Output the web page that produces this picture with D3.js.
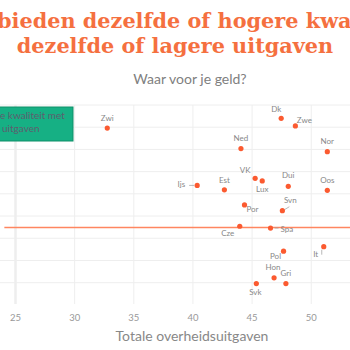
<!DOCTYPE html>
<html lang="nl">
  <head>
    <meta charset="utf-8">
    <title>Waar voor je geld?</title>
    <script src="https://d3js.org/d3.v7.min.js"></script>
    <style>
      body { margin: 0; background: #fff; overflow: hidden; }
      text { font-family: Lato, "Open Sans", sans-serif; }
    </style>
  </head>

  <body>

  <script>

// Data: totale overheidsuitgaven (% bbp) vs. kwaliteitsscore

  var landen   = ["Zwi", "Dk", "Zwe", "Ned", "Nor", "VK", "Lux", "Dui", "Ijs", "Est",
                  "Oos", "Por", "Svn", "Cze", "Spa", "Pol", "It", "Hon", "Gri", "Svk"];
  var uitgaven = [32.8, 47.5, 48.7, 44.1, 51.4, 45.3, 45.9, 48.1, 40.4, 42.7,
                  51.4, 44.4, 47.6, 44.0, 46.6, 47.7, 51.1, 46.9, 47.9, 45.4];
  var kwaliteit = [1.98, 2.20, 2.03, 1.52, 1.45, 0.85, 0.79, 0.67, 0.69, 0.59,
                   0.58, 0.25, 0.12, -0.23, -0.27, -0.79, -0.69, -1.39, -1.52, -1.52];
  var xTicks = [25, 30, 35, 40, 45, 50];
  var yTicks = [-1.5, -1, -0.5, 0, 0.5, 1, 1.5, 2, 2.5];
  var gemiddelde = -0.26;

  var data = landen.map((land, i) => ({land, x: uitgaven[i], y: kwaliteit[i]}));

// label placement (pixels relative to point)
  var labelPos = {
    Zwi: [0, -7], Dk: [-5, -6], Zwe: [9, -3], Ned: [0, -8], Nor: [0, -8],
    VK: [-10, -5], Lux: [0, 11], Dui: [0, -8], Ijs: [-12, 2, "end"], Est: [0, -7],
    Oos: [0, -7], Por: [8, 7], Svn: [8, -8], Cze: [-12, 10], Spa: [10, 3.5, "start"],
    Pol: [-8, 8], It: [-8, 10], Hon: [-1, -8], Gri: [0, -8], Svk: [-1, 11]
  };
  var leaders = {
    Ijs: [[-8, 0], [-3, 0]], Svn: [[7, -4], [2, -1]], Spa: [[4, 0], [8, 0]],
    It: [[-2, 8], [-2, 3]]
  };

  var w = 350;
  var h = 350;
  var margin = {top: 105, bottom: 46};
  var orange = "#f5703f";
  var dot = "#fb5a30";

  var svg = d3.select("body")
    .append("svg")
      .attr("width", w)
      .attr("height", h);

  var xScale = d3.scaleLinear()
      .domain([22, 56])
      .range([15 - 3 * 11.83, 15 + 31 * 11.83]);

  var yScale = d3.scaleLinear()
      .domain([-1.98, 2.5])
      .range([h - margin.bottom, margin.top]);

  var x0 = xScale.range()[0], x1 = xScale.range()[1];
  var y0 = yScale.range()[0], y1 = yScale.range()[1];

// Titles

  var t1 = svg.append("text")
      .attr("y", 28)
      .style("font-family", "'DejaVu Serif', serif")
      .attr("font-weight", "bold")
      .attr("font-size", 20.8)
      .attr("fill", orange)
      .text("Deze landen bieden dezelfde of hogere kwaliteit met");
  var pre = t1.text().indexOf("bieden");
  t1.attr("x", -3 - t1.node().getSubStringLength(0, pre));

  svg.append("text")
      .attr("x", 175)
      .attr("y", 53)
      .attr("text-anchor", "middle")
      .style("font-family", "'DejaVu Serif', serif")
      .attr("font-weight", "bold")
      .attr("font-size", 20.8)
      .attr("fill", orange)
      .text("dezelfde of lagere uitgaven");

  svg.append("text")
      .attr("x", 190)
      .attr("y", 84)
      .attr("text-anchor", "middle")
      .attr("font-size", 14)
      .attr("fill", "#808080")
      .text("Waar voor je geld?");

// Grid

  var grid = svg.append("g");

  grid.selectAll("line.h")
    .data(yTicks)
    .enter().append("line")
      .attr("class", "h")
      .attr("x1", x0)
      .attr("x2", x1)
      .attr("y1", d => yScale(d))
      .attr("y2", d => yScale(d))
      .attr("stroke", "#eee")
      .attr("stroke-width", 1);

  var xAxis = d3.axisBottom(xScale)
      .tickValues(xTicks)
      .tickSize(-(y0 - y1))
      .tickPadding(10);

  svg.append("g")
      .attr("transform", `translate(0, ${y0})`)
      .call(xAxis)
      .call(g => g.select(".domain").remove())
      .call(g => g.selectAll(".tick line")
          .attr("stroke", "#eee")
          .attr("stroke-width", d => d == 25 ? 2.5 : 1))
      .call(g => g.selectAll(".tick text")
          .attr("fill", "#999")
          .attr("font-family", "Lato, sans-serif")
          .attr("font-size", 9.5));

  svg.append("text")
      .attr("x", 192)
      .attr("y", 341)
      .attr("text-anchor", "middle")
      .attr("font-size", 14)
      .attr("fill", "#888")
      .text("Totale overheidsuitgaven");

// Reference line

  svg.append("line")
      .attr("x1", xScale(24.1))
      .attr("x2", x1)
      .attr("y1", yScale(gemiddelde))
      .attr("y2", yScale(gemiddelde))
      .attr("stroke", "#ff8660")
      .attr("stroke-width", 1.5);

// Legend box

  svg.append("rect")
      .attr("x", -90)
      .attr("y", 107)
      .attr("width", 163)
      .attr("height", 34)
      .attr("fill", "#16b084")
      .attr("stroke", "#0e8f69")
      .attr("stroke-width", 1);

  var lt = svg.append("text")
      .attr("font-size", 10)
      .attr("fill", "#5e5e6e");
  var l1 = lt.append("tspan").attr("y", 119).text("Dezelfde of hogere kwaliteit met");
  var l2 = lt.append("tspan").attr("y", 132).text("dezelfde of lagere uitgaven");
  var lx = -l1.node().getSubStringLength(0, l1.text().indexOf("e kwaliteit"));
  l1.attr("x", lx);
  l2.attr("x", lx);

// Points and labels

  var pts = svg.append("g");

  pts.selectAll("line.leader")
    .data(data.filter(d => leaders[d.land]))
    .enter().append("line")
      .attr("class", "leader")
      .attr("x1", d => xScale(d.x) + leaders[d.land][0][0])
      .attr("y1", d => yScale(d.y) + leaders[d.land][0][1])
      .attr("x2", d => xScale(d.x) + leaders[d.land][1][0])
      .attr("y2", d => yScale(d.y) + leaders[d.land][1][1])
      .attr("stroke", "#999")
      .attr("stroke-width", 0.7);

  pts.selectAll("circle")
    .data(data)
    .enter().append("circle")
      .attr("cx", d => xScale(d.x))
      .attr("cy", d => yScale(d.y))
      .attr("r", 2.6)
      .attr("fill", dot);

  pts.selectAll("text")
    .data(data)
    .enter().append("text")
      .attr("x", d => xScale(d.x) + labelPos[d.land][0])
      .attr("y", d => yScale(d.y) + labelPos[d.land][1])
      .attr("text-anchor", d => labelPos[d.land][2] || "middle")
      .attr("font-size", 8)
      .attr("fill", "#888")
      .text(d => d.land);

    </script>

  </body>

</html>
